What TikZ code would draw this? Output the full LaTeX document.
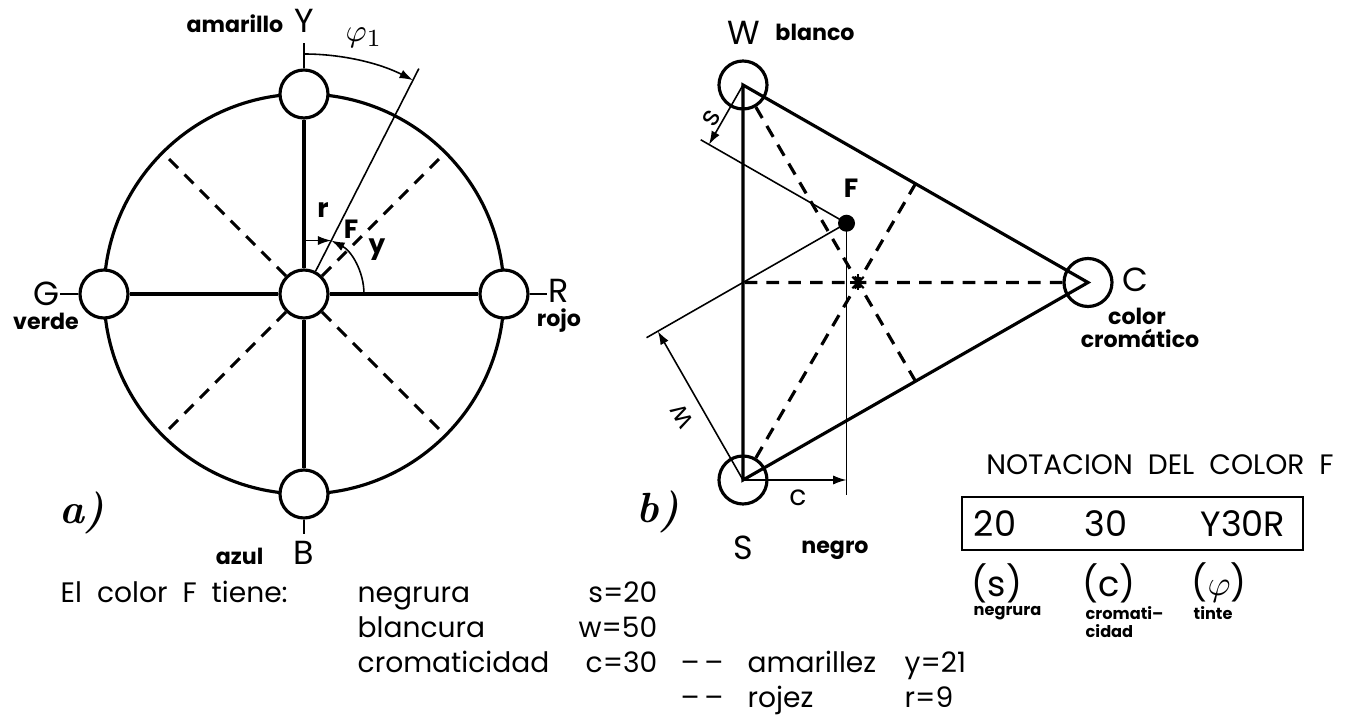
\documentclass[tikz,border=0pt]{standalone}
\usepackage{fontspec}
\newfontfamily\tecfont{Poppins}[WordSpace=2]
\usetikzlibrary{arrows.meta,calc}

\begin{document}
\begin{tikzpicture}[
        grueso/.style={line width=0.9pt},
        fino/.style={line width=0.45pt},
        trazos/.style={line width=0.9pt, dash pattern=on 3.6pt off 2.6pt},
        flecha/.style={fino, -{Latex[length=3.8pt,width=2.6pt]}},
        anillo/.style={circle, draw, line width=0.9pt, minimum size=0.48cm, inner sep=0pt},
        letra/.style={font=\tecfont\fontsize{9.5}{11}\selectfont, inner sep=0pt},
        nombre/.style={font=\tecfont\bfseries\fontsize{6.3}{7.5}\selectfont, inner sep=0pt},
        marca/.style={font=\tecfont\bfseries\fontsize{7.5}{9}\selectfont, inner sep=0pt},
        texto/.style={font=\tecfont\fontsize{8}{9.6}\selectfont, inner sep=0pt},
        grande/.style={font=\tecfont\fontsize{10}{12}\selectfont, inner sep=0pt},
        mini/.style={font=\tecfont\bfseries\fontsize{4.6}{5.2}\selectfont, inner sep=0pt, align=left},
        rotulo/.style={font=\bfseries\itshape\fontsize{12}{14}\selectfont, inner sep=0pt}
    ]
    \useasboundingbox (0,0) rectangle (13.62,7.16);

    % a) Circulo de tonos
    \coordinate (O) at (3.04,4.22);
    \draw[grueso] (O) circle (2);
    \node[anillo, fill=white] (Oc) at (O) {};
    \foreach \n/\a in {Y/90, R/0, B/270, G/180}{
        \node[anillo, fill=white] (\n) at ($(O)+(\a:2)$) {};
        \draw[grueso] (Oc) -- (\n);
    }
    \foreach \a in {45,135,225,315}
        \draw[trazos] (Oc.\a) -- ($(O)+(\a:2)$);
    % marcas de los polos
    \draw[fino] (Y.north) -- ++(0,0.25);
    \draw[fino] (G.west) -- ++(-0.18,0);
    \draw[fino] (R.east) -- ++(0.17,0);
    \draw[fino] (B.south) -- ++(0,-0.14);
    \node[letra, anchor=base] (Ylab) at (3.04,6.83) {Y};
    \node[nombre, anchor=base east] (amarillo) at (2.84,6.83) {amarillo};
    \node[letra, anchor=base] (Glab) at (0.46,4.10) {G};
    \node[nombre, anchor=base] (verde) at (0.46,3.86) {verde};
    \node[letra, anchor=base] (Rlab) at (5.59,4.13) {R};
    \node[nombre, anchor=base] (rojo) at (5.59,3.89) {rojo};
    \node[letra, anchor=base] (Blab) at (3.04,1.51) {B};
    \node[nombre, anchor=base east] (azul) at (2.64,1.51) {azul};
    % tinte phi y punto F
    \coordinate (Fa) at ($(O)+(63:0.6)$);
    \draw[fino] (Oc.63) -- ($(O)+(63:2.53)$);
    \draw[flecha] ($(O)+(90:2.4)$) arc[start angle=90, end angle=63, radius=2.4];
    \node[letra] (phi) at (3.64,6.78) {$\varphi_1$};
    \draw[flecha] (O |- Fa) -- (Fa);
    \draw[flecha] ($(O)+(0:0.6)$) arc[start angle=0, end angle=63, radius=0.6];
    \node[marca] (rlab) at (3.23,5.06) {r};
    \node[marca] (Falab) at (3.51,4.87) {F};
    \node[marca] (ylab) at (3.77,4.66) {y};
    \node[rotulo] (a) at (0.82,2.03) {a)};

    % b) Triangulo W-S-C
    \node[anillo] (W) at (7.43,6.31) {};
    \node[anillo] (S) at (7.43,2.36) {};
    \node[anillo] (C) at (10.88,4.335) {};
    \draw[grueso] (W.center) -- (C.center) -- (S.center) -- cycle;
    \draw[trazos] (W) -- ($(S)!0.5!(C)$);
    \draw[trazos] (S) -- ($(W)!0.5!(C)$);
    \draw[trazos] (C) -- ($(W)!0.5!(S)$);
    \coordinate (M) at ($0.3333*(W)+0.3333*(S)+0.3334*(C)$);
    \foreach \a in {0,45,90,135}
        \draw[line width=0.6pt] ($(M)+(\a:0.08)$) -- ($(M)+({\a+180}:0.08)$);
    % color F: s=20, w=50, c=30
    \coordinate (F) at ($0.2*(S)+0.5*(W)+0.3*(C)$);
    \node[circle, fill, inner sep=0pt, minimum size=0.17cm] (Fb) at (F) {};
    \coordinate (Fs) at ($(F)+(W)-(C)$);
    \coordinate (sp) at ($(F)!(W)!(Fs)$);
    \draw[fino] (F) -- ($(F)!1.06!(sp)$);
    \draw[flecha] (W.center) -- (sp);
    \coordinate (Fw) at ($(F)+(S)-(C)$);
    \coordinate (wp) at ($(F)!(S)!(Fw)$);
    \draw[fino] (F) -- ($(F)!1.06!(wp)$);
    \draw[flecha] (S.center) -- (wp);
    \draw[fino] (F) -- ($(F |- S.center)+(0,-0.15)$);
    \draw[flecha] (S.center) -- (F |- S.center);
    \node[texto, rotate=60] (slab) at (7.11,5.98) {s};
    \node[texto, rotate=120] (wlab) at (6.82,3.00) {w};
    \node[texto] (clab) at (7.98,2.18) {c};
    \node[marca] (Fblab) at (8.51,5.28) {F};
    \node[letra] (Wlab) at (7.44,6.83) {W};
    \node[nombre] (blanco) at (8.15,6.84) {blanco};
    \node[letra] (Slab) at (7.43,1.68) {S};
    \node[nombre] (negro) at (8.35,1.66) {negro};
    \node[letra] (Clab) at (11.35,4.36) {C};
    \node[nombre] (color) at (11.37,4.00) {color};
    \node[nombre] (cromatico) at (11.40,3.78) {cromático};
    \node[rotulo] (b) at (6.58,2.04) {b)};

    % Notacion
    \node[texto] (titulo) at (11.60,2.51) {NOTACION DEL COLOR F};
    \draw[fino] (9.62,1.66) rectangle (13.03,2.19);
    \foreach \x/\v in {9.95/20, 11.06/30, 12.43/Y30R}
        \node[grande] (v\v) at (\x,1.92) {\v};
    \foreach \x/\p/\q in {9.97/s/s, 11.09/c/c, 12.19/$\varphi$/phi}
        \node[grande] (p\q) at (\x,1.33) {(\p)};
    \node[mini, anchor=north west] (nnegrura) at (9.73,1.10) {negrura};
    \node[mini, anchor=north west] (ncroma) at (10.85,1.10) {cromati\textendash\\cidad};
    \node[mini, anchor=north west] (ntinte) at (11.93,1.10) {tinte};

    % Texto inferior
    \node[texto, anchor=base west] (tiene) at (0.60,1.13) {El color F tiene:};
    \foreach \y/\nom/\val in {1.13/negrura/s=20, 0.78/blancura/w=50, 0.43/cromaticidad/c=30}{
        \node[texto, anchor=base west] (\nom) at (3.57,\y) {\nom};
        \node[texto, anchor=base east] (val\nom) at (6.58,\y) {\val};
    }
    \foreach \y/\nom/\val in {0.43/amarillez/y=21, 0.08/rojez/r=9}{
        \node[texto, anchor=base west] (guion\nom) at (6.80,\y) {\textendash\,\textendash};
        \node[texto, anchor=base west] (\nom) at (7.47,\y) {\nom};
        \node[texto, anchor=base west] (val\nom) at (9.04,\y) {\val};
    }
\end{tikzpicture}
\end{document}
